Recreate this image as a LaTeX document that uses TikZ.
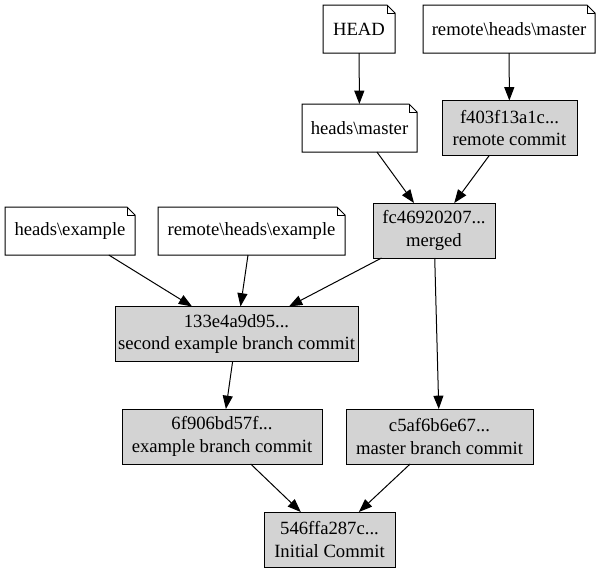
\documentclass[tikz,border=0pt]{standalone}
\usepackage{fontspec}
\setmainfont{Liberation Serif}
\usetikzlibrary{arrows.meta}
\definecolor{commitgray}{HTML}{D3D3D3}
\begin{document}
\begin{tikzpicture}[x=0.75pt,y=-0.75pt,
  base/.style={rectangle, inner sep=0pt, outer sep=0pt, align=center,
    font=\fontsize{14}{16.8}\selectfont, line width=0.75pt},
  commit/.style={base, draw=black, fill=commitgray, minimum height=41.25pt},
  notebox/.style={base, minimum height=36pt},
  edge/.style={line width=0.75pt, -{Triangle[length=10pt,width=7.5pt]}}]
\useasboundingbox (0,0) rectangle (600,572);

% notes
\node[notebox, minimum width=54pt]     (head) at (359,29)    {HEAD};
\node[notebox, minimum width=129pt]    (rhm)  at (509,29)    {remote\textbackslash heads\textbackslash master};
\node[notebox, minimum width=86.25pt]  (hm)   at (359.5,128) {heads\textbackslash master};
\node[notebox, minimum width=97.5pt]   (he)   at (70,231)    {heads\textbackslash example};
\node[notebox, minimum width=140.25pt] (rhe)  at (251.5,231) {remote\textbackslash heads\textbackslash example};

% commits
\node[commit, minimum width=101.25pt] (f403) at (509.5,128) {f403f13a1c...\\remote commit};
\node[commit, minimum width=91.5pt]   (fc46) at (434,230.5) {fc46920207...\\merged};
\node[commit, minimum width=182.25pt] (c133) at (236.5,334) {133e4a9d95...\\second example branch commit};
\node[commit, minimum width=150pt]    (c6f9) at (222,436.5) {6f906bd57f...\\example branch commit};
\node[commit, minimum width=140.25pt] (c5af) at (439.5,436.5) {c5af6b6e67...\\master branch commit};
\node[commit, minimum width=98.25pt]  (c546) at (329.5,539.5) {546ffa287c...\\Initial Commit};

% note outlines
\foreach \n in {head,rhm,hm,he,rhe} {
  \draw[line width=0.75pt, line join=miter]
    (\n.south west) -- (\n.north west) -- ([xshift=-6pt]\n.north east)
    -- ([yshift=-6pt]\n.north east) -- (\n.south east) -- cycle;
  \draw[line width=0.75pt]
    ([xshift=-6pt]\n.north east) -- ([xshift=-6pt,yshift=-6pt]\n.north east)
    -- ([yshift=-6pt]\n.north east);
}

% edges
\draw[edge] (head) -- (hm);
\draw[edge] (rhm) -- (f403);
\draw[edge] (hm) -- (fc46);
\draw[edge] (f403) -- (fc46);
\draw[edge] (he) -- (c133);
\draw[edge] (rhe) -- (c133);
\draw[edge] (fc46) -- (c133);
\draw[edge] (fc46) -- (c5af);
\draw[edge] (c133) -- (c6f9);
\draw[edge] (c6f9) -- (c546);
\draw[edge] (c5af) -- (c546);
\end{tikzpicture}
\end{document}
